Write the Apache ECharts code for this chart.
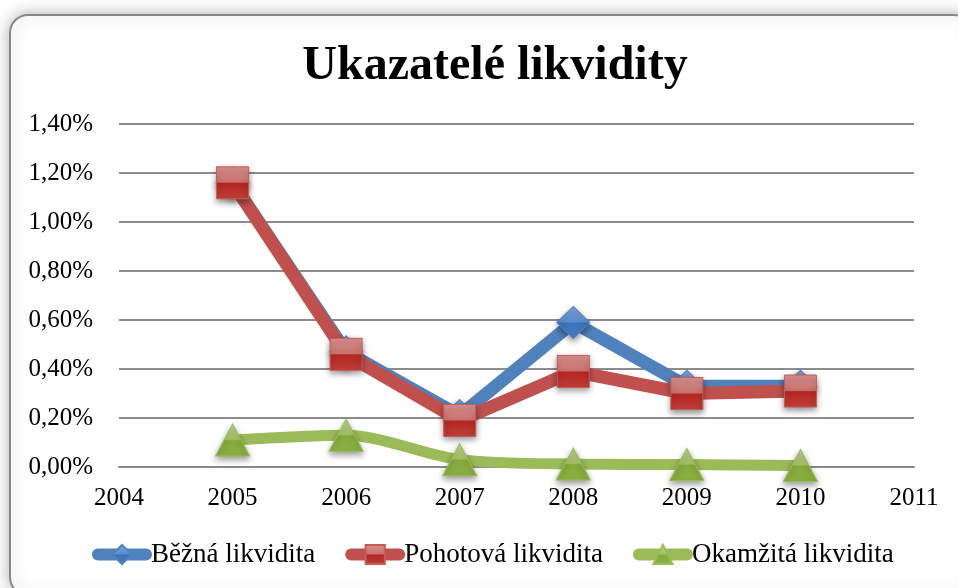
<!DOCTYPE html>
<html>
<head>
<meta charset="utf-8">
<style>
  html, body { margin: 0; padding: 0; background: #ffffff; }
  #chart { width: 958px; height: 588px; }
</style>
<script src="https://cdn.jsdelivr.net/npm/echarts@6/dist/echarts.min.js"></script>
</head>
<body>
<div id="chart"></div>
<script>
// Liquidity ratios per year (values in percent)
const years = [2005, 2006, 2007, 2008, 2009, 2010];
const seriesNames = ['Běžná likvidita', 'Pohotová likvidita', 'Okamžitá likvidita'];
const bezna = [1.16, 0.47, 0.21, 0.59, 0.33, 0.33];
const pohotova = [1.16, 0.46, 0.19, 0.39, 0.30, 0.31];
const okamzita = [0.11, 0.13, 0.03, 0.012, 0.01, 0.006];

const FONT = '"Liberation Serif", "Times New Roman", serif';

function pairs(vals) {
  return years.map((y, i) => [y, vals[i]]);
}

// Two-tone glossy fill for the markers
function gloss(top, mid, low, bottom) {
  return new echarts.graphic.LinearGradient(0, 0, 0, 1, [
    { offset: 0, color: top },
    { offset: 0.48, color: mid },
    { offset: 0.52, color: low },
    { offset: 1, color: bottom }
  ]);
}

const markerShadow = {
  shadowBlur: 6,
  shadowColor: 'rgba(0,0,0,0.4)',
  shadowOffsetY: 3
};

const chart = echarts.init(document.getElementById('chart'), null, { renderer: 'canvas' });

chart.setOption({
  animation: false,
  backgroundColor: '#ffffff',
  textStyle: { fontFamily: FONT, color: '#000' },
  graphic: [{
    type: 'rect',
    z: -10,
    silent: true,
    shape: { x: 10, y: 15, width: 962, height: 580, r: 18 },
    style: {
      fill: '#ffffff',
      stroke: '#878787',
      lineWidth: 2,
      shadowBlur: 16,
      shadowColor: 'rgba(0,0,0,0.3)'
    }
  }],
  title: {
    text: 'Ukazatelé likvidity',
    left: 490,
    textAlign: 'center',
    top: 38,
    textStyle: { fontFamily: FONT, fontSize: 48, fontWeight: 'bold', color: '#000' }
  },
  legend: {
    left: 87,
    top: 536,
    itemWidth: 48,
    itemHeight: 24,
    itemGap: 30,
    lineStyle: { width: 12, cap: 'round' },
    textStyle: { fontFamily: FONT, fontSize: 27, color: '#000' },
    data: seriesNames
  },
  grid: { left: 119, right: 44, top: 124, bottom: 121, containLabel: false },
  xAxis: {
    type: 'value',
    min: 2004,
    max: 2011,
    interval: 1,
    axisLine: { show: true, lineStyle: { color: '#898989', width: 2 } },
    axisTick: { show: false },
    splitLine: { show: false },
    axisLabel: {
      fontFamily: FONT, fontSize: 25, color: '#000', margin: 19,
      formatter: v => String(v)
    }
  },
  yAxis: {
    type: 'value',
    min: 0,
    max: 1.4,
    interval: 0.2,
    axisLine: { show: false },
    axisTick: { show: false },
    splitLine: { lineStyle: { color: '#8c8c8c', width: 2 } },
    axisLabel: {
      fontFamily: FONT, fontSize: 25, color: '#000', margin: 26,
      formatter: v => v.toFixed(2).replace('.', ',') + '%'
    }
  },
  series: [
    {
      name: seriesNames[0],
      type: 'line',
      data: pairs(bezna),
      symbol: 'diamond',
      symbolSize: [33, 32],
      lineStyle: { color: '#4f81bd', width: 13 },
      itemStyle: Object.assign({
        color: gloss('#7ea6da', '#5b8dcc', '#3a72b8', '#4a7fc2'),
        borderColor: '#4f81bd', borderWidth: 1
      }, markerShadow),
      z: 2
    },
    {
      name: seriesNames[1],
      type: 'line',
      data: pairs(pohotova),
      symbol: 'rect',
      symbolSize: [32, 32],
      lineStyle: { color: '#c0504d', width: 13 },
      itemStyle: Object.assign({
        color: gloss('#d99391', '#c9706d', '#b2261f', '#c13f3a'),
        borderColor: '#c85a57', borderWidth: 1
      }, markerShadow),
      z: 3
    },
    {
      name: seriesNames[2],
      type: 'line',
      data: pairs(okamzita),
      smooth: 0.3,
      symbol: 'triangle',
      symbolSize: [34, 32],
      lineStyle: { color: '#9bbb59', width: 11 },
      itemStyle: Object.assign({
        color: gloss('#bcd590', '#a4c266', '#86ab3c', '#8cb142'),
        borderColor: '#9bbb59', borderWidth: 1
      }, markerShadow),
      z: 4
    }
  ]
});
</script>
</body>
</html>
